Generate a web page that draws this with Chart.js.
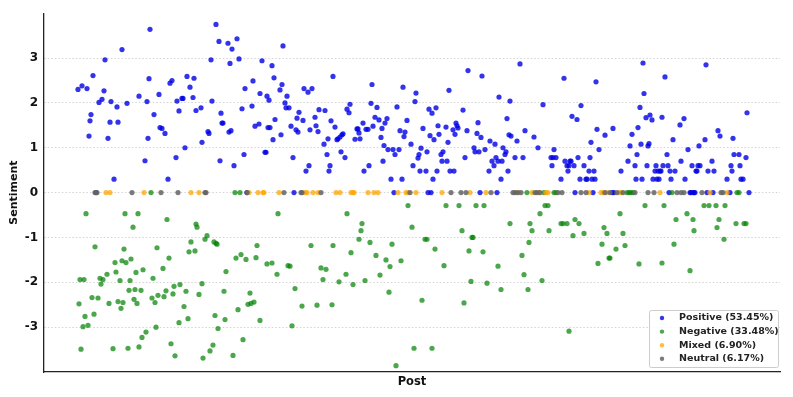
<!DOCTYPE html>
<html>
<head>
<meta charset="utf-8">
<script src="https://cdn.jsdelivr.net/npm/chart.js@4.4.1/dist/chart.umd.min.js"></script>
<style>
  body { margin:0; background:#fff; }
  #wrap { width:793px; height:397px; position:relative; }
</style>
</head>
<body>
<div id="wrap"><canvas id="myChart"></canvas></div>
<script>
// values (x = post number, y = sentiment)
var posPost = [1,5,10,16,12,13,14,22,25,27,28,31,33,34,37,40,41,45,50,62,68,70,71,72,73,77,82,83,85,88,91,93,95,99,100,102,
  105,106,108,110,113,116,117,119,124,125,131,132,134,135,139,142,143,144,145,146,151,152,153,154,155,157,160,162,165,167,168,
  175,176,178,182,183,185,188,189,190,191,192,193,195,196,197,198,203,204,205,206,208,209,210,212,214,216,219,220,221,222,226,227,
  229,231,232,233,235,238,239,241,242,247,248,250,251,252,253,254,256,258,260,261,263,264,265,266,268,270,272,273,278,280,281,282,283,
  286,287,289,291,292,294,295,296,298,300,302,304,305,306,307,308,310,311,314,316,318,320,322,323,325,326,327,328,330,334,336,338,339,
  341,342,343,344,346,349,350,352,353,355,356,357,359,360,361,362,364,365,366,369,370,371,372,373,376,377,378,379,380,381,386,388,390,
  391,397,398,400,401,402,404,405,408,412,413,415,417,418,419,421,422,424,425,426,428,429,430,431,432,433,434,438,440,443,446,448,457,
  461,466,474,475,476,477,479,484,487,488,490,491,492,493,494,495,497,500,501,503,504,507,509,510,512,513,514,515,517,518,519,520,522,
  528,536,544,551,553,555,558,559,560,561,563,564,565,566,567,569,570,571,572,573,575,576,578,579,580,581,582,583,584,585,586,588,590,
  591,593,594,596,598,603,604,607,608,611,615,619,620,621,622,623,628,629,631,635,637,641,643,650,654,655,656,657,662,663,664,666,669,670,
  19,170,217,317,351,354,403,420,498,516,535,537,592,613,614,616,617,618,630,636,653,672];
var posScore = [2.30,2.38,2.32,2.61,1.26,1.60,1.74,2.01,2.08,2.27,2.96,1.21,1.57,2.03,0.30,1.91,1.57,3.19,1.99,2.15,0.71,2.03,1.21,2.54,3.64,1.74,2.19,1.45,1.43,1.32,0.30,2.44,2.50,0.78,2.04,1.82,
  2.10,2.10,1.00,2.59,2.35,2.12,2.55,1.83,1.89,1.12,1.36,1.32,2.96,2.04,3.75,3.37,0.71,1.77,1.55,1.55,3.33,1.35,2.88,1.38,3.20,0.60,3.43,2.98,1.87,0.85,2.32,
  1.93,2.49,1.48,1.53,2.21,2.94,0.90,0.90,2.15,1.45,2.06,1.45,2.83,1.18,2.56,1.63,2.29,1.29,2.41,3.27,2.00,1.89,2.15,1.89,1.48,0.78,1.40,1.66,1.35,1.79,1.61,2.32,
  0.48,2.24,0.60,1.40,2.32,1.68,1.49,1.36,1.85,1.08,1.83,0.85,1.20,0.48,0.60,1.60,2.59,1.46,1.18,1.20,1.24,0.91,1.29,1.31,0.78,1.86,1.78,1.97,1.19,1.42,1.42,1.33,1.20,
  1.55,0.48,1.41,1.41,0.60,1.99,2.41,1.48,1.68,1.90,1.62,1.23,1.43,0.70,1.05,1.55,1.65,0.96,0.30,0.96,0.85,1.91,0.96,1.38,0.30,2.35,1.25,1.35,1.61,1.08,0.60,2.03,2.22,
  0.77,0.85,0.48,0.99,1.43,0.48,0.91,1.86,1.27,1.77,0.30,1.18,1.89,0.48,1.49,1.30,0.85,0.70,0.91,1.46,0.70,1.12,2.28,0.48,1.40,0.48,1.30,1.55,1.49,1.44,1.84,0.78,1.38,
  2.72,1.00,0.91,1.32,1.56,0.91,1.23,2.60,0.96,0.48,1.15,0.70,0.60,1.08,0.78,0.70,2.13,0.30,0.70,1.00,0.85,0.91,1.65,0.48,1.29,2.04,1.26,0.78,1.15,2.87,0.78,1.38,1.24,
  1.00,1.96,0.78,0.60,0.78,0.96,0.78,0.30,2.55,0.70,0.60,0.48,0.60,0.70,0.70,1.70,0.60,1.63,0.78,0.30,1.94,0.60,0.30,0.30,0.48,0.78,1.12,0.30,0.48,0.30,2.47,1.41,0.96,
  1.28,1.43,0.48,0.70,1.04,1.30,0.60,0.30,0.85,1.45,1.90,1.08,0.30,2.89,2.21,1.67,0.60,1.04,1.09,1.73,1.62,0.30,0.48,0.60,0.30,0.48,0.30,0.48,0.48,1.68,0.60,2.58,0.85,
  0.60,0.48,0.30,1.18,0.48,1.51,0.70,1.65,0.30,0.96,0.60,0.48,0.48,0.60,1.04,0.60,1.18,2.85,0.48,0.70,0.48,1.38,1.26,0.30,0.60,0.48,1.21,0.85,0.85,0.60,0.30,0.30,0.78,1.78,
  0,0,0,0,0,0,0,0,0,0,0,0,0,0,0,0,0,0,0,0,0,0];

var negPost = [9,48,61,56,90,18,47,80,54,45,49,38,92,86,39,59,66,3,7,23,26,24,30,43,53,76,97,103,58,52,64,89,81,96,87,15,21,75,57,2,32,41,46,60,78,44,
  8,17,6,11,79,69,65,62,51,36,4,94,98,102,
  201,119,120,130,128,137,140,139,114,112,118,180,164,159,169,179,190,195,211,213,200,149,125,109,122,147,173,218,107,171,174,177,161,225,
  138,111,148,183,141,215,166,136,133,126,156,
  270,331,285,284,282,335,348,350,234,256,293,315,358,274,299,309,324,313,244,249,246,262,269,276,288,303,312,345,240,255,337,355,319,
  369,382,399,407,468,471,463,433,453,484,490,385,455,472,395,396,452,392,406,445,367,421,447,394,410,465,424,451,387,492,
  568,587,543,610,486,498,502,599,616,496,507,527,530,546,617,525,548,597,539,532,533,521,562,585,613,
  627,632,639,648,642,640,659,667,669,647,
  74,158,163,450,467,477,479,550,552,554,556,595,660,662];
var negScore = [-0.47,-0.47,-0.47,-0.77,-0.60,-1.21,-1.26,-1.23,-1.48,-1.52,-1.56,-1.56,-1.46,-1.69,-1.77,-1.78,-1.72,-1.94,-1.94,-1.91,-1.94,-2.04,-1.82,-1.96,-1.96,-1.91,-2.09,-2.05,-2.16,-2.18,-2.18,-2.19,-2.29,-2.26,-2.32,-2.34,-2.35,-2.35,-2.38,-2.48,-2.47,-2.43,-2.45,-2.47,-2.45,-2.58,
  -2.76,-2.71,-2.99,-2.96,-3.00,-3.11,-3.23,-3.44,-3.47,-3.48,-3.49,-3.37,-3.64,-2.90,
  -0.47,-0.70,-0.77,-0.96,-1.04,-1.10,-1.15,-1.13,-1.10,-1.32,-1.30,-1.18,-1.38,-1.46,-1.49,-1.45,-1.59,-1.57,-1.63,-1.64,-1.82,-1.76,-2.03,-2.20,-2.27,-2.20,-2.24,-2.14,-2.54,-2.49,-2.47,-2.44,-2.61,-2.53,
  -2.74,-2.81,-2.83,-2.85,-3.03,-2.97,-3.28,-3.40,-3.53,-3.69,-3.63,
  -0.47,-0.29,-0.69,-0.85,-1.04,-0.77,-1.04,-1.04,-1.18,-1.18,-1.11,-1.15,-1.26,-1.34,-1.40,-1.50,-1.52,-1.65,-1.68,-1.71,-1.94,-1.99,-1.82,-2.05,-1.96,-1.84,-2.22,-2.40,-2.51,-2.50,-3.47,-3.47,-3.86,
  -0.29,-0.29,-0.29,-0.29,-0.29,-0.29,-0.47,-0.69,-0.69,-0.69,-0.69,-0.85,-0.85,-0.85,-1.00,-1.00,-1.11,-1.30,-1.32,-1.40,-1.63,-1.64,-1.83,-1.98,-2.02,-1.96,-2.16,-2.16,-2.46,-3.09,
  -0.29,-0.29,-0.47,-0.47,-0.69,-0.60,-0.69,-0.60,-0.60,-0.96,-0.91,-0.78,-0.91,-0.91,-0.85,-1.15,-1.18,-1.15,-1.26,-1.46,-1.46,-1.58,-1.59,-1.57,-1.74,
  -0.29,-0.29,-0.29,-0.29,-0.60,-0.78,-0.69,-0.69,-0.69,-1.04,
  0,0,0,0,0,0,0,0,0,0,0,0,0,0];

var mixPost = [29,33,67,114,122,172,181,186,187,202,228,230,236,241,259,263,274,276,277,291,297,301,321,329,331,339,365,393,409,
  440,455,462,469,471,512,524,526,530,542,544,583,633,650];
var mixScore = [0,0,0,0,0,0,0,0,0,0,0,0,0,0,0,0,0,0,0,0,0,0,0,0,0,0,0,0,0,0,0,0,0,0,0,0,0,0,0,0,0,0,0];

var neuPost = [18,20,55,84,101,128,129,170,207,224,225,244,333,374,384,389,414,436,438,441,444,458,460,463,481,485,504,509,
  528,533,540,546,558,571,577,600,604,607,625,644,646];
var neuScore = [0,0,0,0,0,0,0,0,0,0,0,0,0,0,0,0,0,0,0,0,0,0,0,0,0,0,0,0,0,0,0,0,0,0,0,0,0,0,0,0,0];

var legendLabels = ['Positive (53.45%)', 'Negative (33.48%)', 'Mixed (6.90%)', 'Neutral (6.17%)'];
var dotColors = ['rgba(0,0,230,0.8)', 'rgba(0,128,0,0.7)', 'rgba(255,165,0,0.75)', 'rgba(100,100,100,0.85)'];
var yTicks = [-3, -2, -1, 0, 1, 2, 3];

function toPoints(xs, ys){
  var out = [];
  for (var i = 0; i < xs.length; i++) {
    out.push({x: xs[i], y: ys[i]});
  }
  return out;
}

var font = "'DejaVu Sans', sans-serif";

// legend drawn inside the plot, bottom right corner
var boxLegend = {
  id: 'boxLegend',
  afterDraw: function(chart){
    var ctx = chart.ctx;
    var area = chart.chartArea;
    var w = 129, h = 57;
    var x = area.right - w - 2, y = area.bottom - h - 5;
    ctx.save();
    ctx.fillStyle = 'rgba(255,255,255,0.85)';
    ctx.strokeStyle = '#cccccc';
    ctx.lineWidth = 1;
    ctx.beginPath();
    ctx.roundRect(x + 0.5, y + 0.5, w, h, 2);
    ctx.fill();
    ctx.stroke();
    ctx.font = 'bold 9.5px ' + font;
    ctx.textBaseline = 'middle';
    for (var i = 0; i < legendLabels.length; i++) {
      var cy = y + 8 + i * 13.6;
      ctx.fillStyle = dotColors[i];
      ctx.beginPath();
      ctx.arc(x + 13, cy, 2.2, 0, Math.PI * 2);
      ctx.fill();
      ctx.fillStyle = '#222';
      ctx.fillText(legendLabels[i], x + 30, cy);
    }
    ctx.restore();
  }
};

var ctx = document.getElementById('myChart').getContext('2d');
var myChart = new Chart(ctx, {
  type: 'scatter',
  data: {
    datasets: [
      { label: legendLabels[0], data: toPoints(posPost, posScore), backgroundColor: dotColors[0], order: 4 },
      { label: legendLabels[1], data: toPoints(negPost, negScore), backgroundColor: dotColors[1], order: 3 },
      { label: legendLabels[2], data: toPoints(mixPost, mixScore), backgroundColor: dotColors[2], order: 2 },
      { label: legendLabels[3], data: toPoints(neuPost, neuScore), backgroundColor: dotColors[3], order: 1 }
    ]
  },
  options: {
    responsive: true,
    maintainAspectRatio: false,
    animation: false,
    elements: { point: { radius: 2.6, borderWidth: 0, hoverRadius: 3 } },
    layout: { padding: { left: 8, right: 13, top: 10, bottom: 0 } },
    plugins: {
      legend: { display: false },
      tooltip: { enabled: false }
    },
    scales: {
      x: {
        type: 'linear',
        min: -33,
        max: 703,
        ticks: { display: false },
        grid: { display: false, drawTicks: false },
        border: { display: true, color: '#222', width: 1.3 },
        title: { display: true, text: 'Post', color: '#111', font: { family: font, size: 11.5, weight: 'bold' }, padding: { top: 0, bottom: 8 } },
        afterFit: function(scale){ scale.height = 25; }
      },
      y: {
        min: -4,
        max: 4,
        afterBuildTicks: function(scale){
          scale.ticks = yTicks.map(function(v){ return {value: v}; });
        },
        ticks: { color: '#111', padding: 6, font: { family: font, size: 12, weight: 'bold' } },
        grid: { color: '#c8c8c8', lineWidth: 0.8, drawTicks: false },
        border: { display: true, color: '#222', width: 1.3, dash: [1.5, 2] },
        title: { display: true, text: 'Sentiment', color: '#111', font: { family: font, size: 11, weight: 'bold' }, padding: { top: 0, bottom: 6 } },
        afterFit: function(scale){ scale.width = 36; }
      }
    }
  },
  plugins: [boxLegend]
});
</script>
</body>
</html>
